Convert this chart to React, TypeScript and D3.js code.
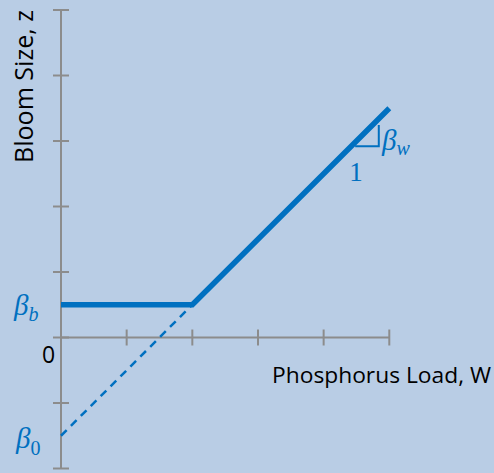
import React from "react";
import * as d3 from "d3";

// Piecewise-linear bloom model: z = max(betaB, beta0 + betaW * W)
const beta0 = -1.5;
const betaW = 1;
const betaB = 0.5;
const loadMax = 5;

const xTicks = [0, 1, 2, 3, 4, 5];
const yTicks = [-2, -1, 0, 1, 2, 3, 4, 5];

const breakLoad = (betaB - beta0) / betaW;

// Solid fitted response and the dashed extension of the linear part
const responseLoads = [0, breakLoad, loadMax];
const extensionLoads = [0, breakLoad];

// Slope triangle (run 1 : rise betaW), drawn small on the rising segment
const triangleCorner = [4.84, 2.92];
const triangleRun = 0.36;

const W = 494;
const H = 473;
const BLUE = "#0070C0";
const GREY = "#8C8C8C";
const BG = "#B9CDE5";
const SANS = "'Open Sans', Lato, sans-serif";
const MATH = "'Liberation Serif', 'DejaVu Serif', serif";

export default function App() {
  const x = d3.scaleLinear().domain([0, 5]).range([61, 389.3]);
  const y = d3.scaleLinear().domain([-2, 5]).range([468.5, 10]);

  const model = (w: number) => Math.max(betaB, beta0 + betaW * w);
  const line = d3
    .line<[number, number]>()
    .x((d) => x(d[0]))
    .y((d) => y(d[1]));

  const responsePath = line(responseLoads.map((w) => [w, model(w)] as [number, number]));
  const extensionPath = line(extensionLoads.map((w) => [w, beta0 + betaW * w] as [number, number]));

  const [cx, cy] = triangleCorner;
  const trianglePath = line([
    [cx - triangleRun, cy],
    [cx, cy],
    [cx, cy + betaW * triangleRun * 0.9],
  ]);

  return (
    <svg
      width={W}
      height={H}
      style={{ position: "absolute", left: 0, top: 0, background: BG }}
    >
      <rect width={W} height={H} fill={BG} />

      {/* axes */}
      <line x1={x(0)} x2={x(0)} y1={y(5)} y2={y(-2)} stroke={GREY} strokeWidth={2} />
      <line x1={x(0)} x2={x(5)} y1={y(0)} y2={y(0)} stroke={GREY} strokeWidth={2} />
      {yTicks.map((t) => (
        <line key={"y" + t} x1={x(0) - 8} x2={x(0) + 8} y1={y(t)} y2={y(t)} stroke={GREY} strokeWidth={2} />
      ))}
      {xTicks.map((t) => (
        <line key={"x" + t} x1={x(t)} x2={x(t)} y1={y(0) - 8} y2={y(0) + 8} stroke={GREY} strokeWidth={2} />
      ))}

      {/* model lines */}
      <path d={extensionPath ?? ""} fill="none" stroke={BLUE} strokeWidth={2.5} strokeDasharray="8,6" />
      <path d={responsePath ?? ""} fill="none" stroke={BLUE} strokeWidth={5.5} strokeLinejoin="miter" />
      <path d={trianglePath ?? ""} fill="none" stroke={BLUE} strokeWidth={2} />

      {/* slope annotation */}
      <text x={356} y={181} fontFamily={MATH} fontSize={27} fill={BLUE} textAnchor="middle">1</text>
      <text x={382} y={150} fontFamily={MATH} fontSize={29} fill={BLUE}>
        <tspan fontStyle="italic">β</tspan>
        <tspan fontStyle="italic" fontSize={20} dy={5}>w</tspan>
      </text>

      {/* intercept labels */}
      <text x={14} y={315} fontFamily={MATH} fontSize={29} fill={BLUE}>
        <tspan fontStyle="italic">β</tspan>
        <tspan fontStyle="italic" fontSize={20} dy={6}>b</tspan>
      </text>
      <text x={16} y={448} fontFamily={MATH} fontSize={29} fill={BLUE}>
        <tspan fontStyle="italic">β</tspan>
        <tspan fontSize={20} dy={7}>0</tspan>
      </text>

      <text x={48.5} y={363} fontFamily={SANS} fontSize={23} fill="#000" textAnchor="middle">0</text>

      {/* axis titles */}
      <text
        x={272}
        y={383.3}
        fontFamily={SANS}
        fontSize={21}
        fill="#000"
        textLength={219}
        lengthAdjust="spacingAndGlyphs"
      >
        Phosphorus Load, W
      </text>
      <text
        transform="translate(32.7,86.5) rotate(-90)"
        fontFamily={SANS}
        fontSize={26}
        fill="#000"
        textAnchor="middle"
        textLength={153}
        lengthAdjust="spacingAndGlyphs"
      >
        Bloom Size, z
      </text>
    </svg>
  );
}
